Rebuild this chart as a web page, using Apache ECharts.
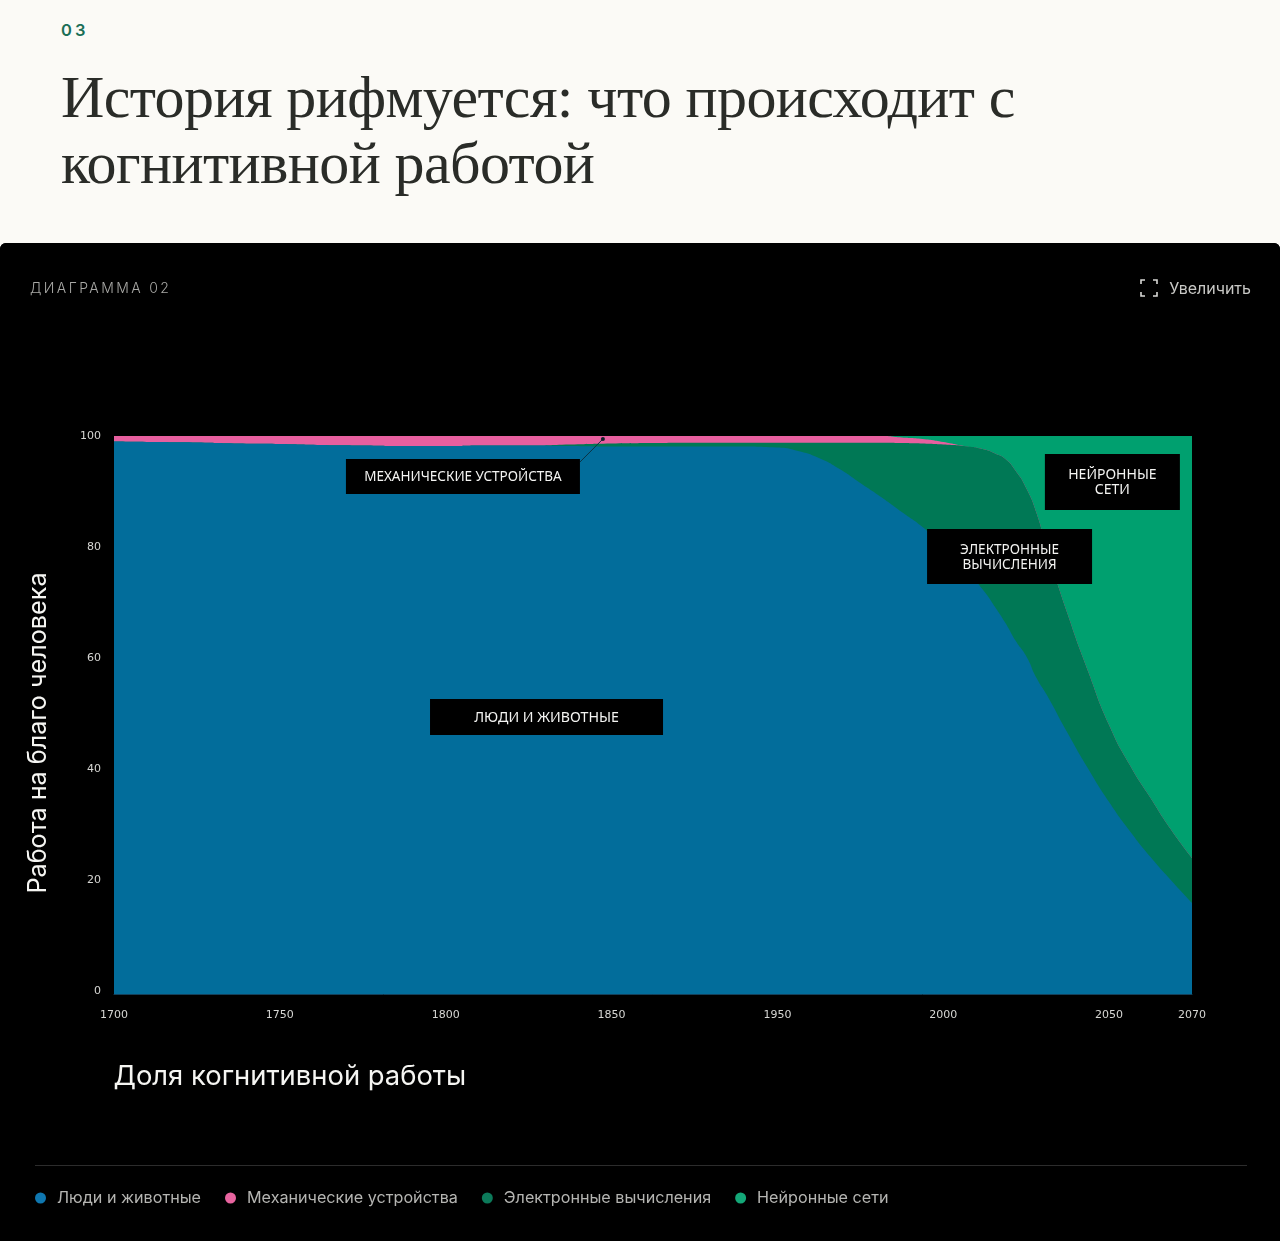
<!DOCTYPE html>
<html lang="ru">
<head>
<meta charset="utf-8">
<title>История рифмуется</title>
<script src="https://cdn.jsdelivr.net/npm/echarts@6/dist/echarts.min.js"></script>
<style>
html,body{margin:0;padding:0;background:#fbfaf6;width:1280px;height:1241px;overflow:hidden}
#eyebrow{position:absolute;left:61px;top:20px;font:600 16.5px/20px Inter,sans-serif;letter-spacing:3px;color:#1b6f57}
#head{position:absolute;left:61px;top:64px;margin:0;font:400 60px/66px "Liberation Serif",serif;color:#2a2c28;letter-spacing:-.6px;white-space:nowrap}
#card{position:absolute;left:0;top:243px;width:1280px;height:998px;background:#000;border-radius:6px 6px 0 0;overflow:hidden}
#chart{position:absolute;left:0;top:0;width:1280px;height:998px}
#tag{position:absolute;left:30px;top:36px;font:300 14px/18px Inter,sans-serif;letter-spacing:2.4px;color:#a8a8a5}
#zoom{position:absolute;right:29px;top:35px;font:400 16px/20px Inter,sans-serif;color:#c9c9c6;display:flex;align-items:center;gap:11px}
</style>
</head>
<body>
<div id="eyebrow">03</div>
<h1 id="head">История рифмуется: что происходит с<br>когнитивной работой</h1>
<div id="card">
  <div id="chart"></div>
  <div id="tag">ДИАГРАММА 02</div>
  <div id="zoom"><svg width="18" height="18" viewBox="0 0 18 18" fill="none" stroke="#d8d8d5" stroke-width="1.6"><path d="M1 5V1h4M13 1h4v4M17 13v4h-4M5 17H1v-4"/></svg><span>Увеличить</span></div>
</div>
<script>
// Axis ticks: evenly spaced steps carrying the reference's labels
const tickSteps = [0, 1, 2, 3, 4, 5, 6, 6.5];
const tickYears = ['1700', '1750', '1800', '1850', '1950', '2000', '2050', '2070'];
const yTicks = [0, 20, 40, 60, 80, 100];

const xSteps = [0, .25, .5, .75, 1, 1.25, 1.5, 1.75, 2, 2.25, 2.5, 2.75, 3, 3.25, 3.5, 3.75,
  4, 4.125, 4.25, 4.375, 4.5, 4.625, 4.75, 4.875,
  5, 5.125, 5.25, 5.3125, 5.375, 5.4375, 5.5, 5.5625, 5.625, 5.75, 5.875, 6, 6.125, 6.25, 6.375, 6.5];

// Upper edge of each band
const humansTop = [99.01, 98.92, 98.83, 98.65, 98.56, 98.38, 98.29, 98.20, 98.20, 98.29, 98.29, 98.20, 98.11, 98.11, 98.11, 98.11,
  97.93, 97.30, 96.04, 94.05, 91.53, 89.01, 86.31, 83.60,
  80.18, 76.40, 71.89, 69.19, 66.31, 63.06, 60.36, 56.40, 53.33, 46.49, 40.00, 34.05, 28.83, 24.14, 19.91, 15.86];
const electronicTop = [99.01, 98.92, 98.83, 98.65, 98.56, 98.38, 98.29, 98.20, 98.20, 98.29, 98.29, 98.47, 98.65, 98.74, 98.79, 98.79,
  98.79, 98.79, 98.79, 98.79, 98.79, 98.79, 98.74, 98.65,
  98.47, 98.20, 97.57, 96.85, 95.86, 93.69, 90.63, 86.13, 79.64, 67.93, 57.48, 47.93, 40.72, 34.77, 29.01, 23.96];
const mechanicalTop = [100, 100, 100, 100, 100, 100, 100, 100, 100, 100, 100, 100, 100, 100, 100, 100,
  100, 100, 100, 100, 100, 100, 99.73, 99.46,
  98.92, 98.20, 97.57, 96.85, 95.86, 93.69, 90.63, 86.13, 79.64, 67.93, 57.48, 47.93, 40.72, 34.77, 29.01, 23.96];
const neuralTop = [100, 100, 100, 100, 100, 100, 100, 100, 100, 100, 100, 100, 100, 100, 100, 100,
  100, 100, 100, 100, 100, 100, 100, 100,
  100, 100, 100, 100, 100, 100, 100, 100, 100, 100, 100, 100, 100, 100, 100, 100];

const names = ['Люди и животные', 'Механические устройства', 'Электронные вычисления', 'Нейронные сети'];
const labelFont = '"Noto Sans", sans-serif';

const pairs = vals => vals.map((v, i) => [xSteps[i], v]);
const area = (name, vals, color) => ({
  name, type: 'line', data: pairs(vals), smooth: 0.6,
  symbol: 'none', showSymbol: false, itemStyle: { color },
  lineStyle: { width: 0 }, areaStyle: { color, opacity: 1, origin: 'start' }, silent: true, animation: false
});
const box = (text, coord, symbolSize, fontSize) => ({
  coord, symbol: 'rect', symbolSize, itemStyle: { color: '#000' },
  label: { show: true, position: 'inside', offset: [0, 1], formatter: text, color: '#f4f4f2', fontFamily: labelFont, fontSize, lineHeight: 15, align: 'center' }
});

// Bands are painted back to front; the annotations sit on the front-most series
const humanSeries = area(names[0], humansTop, '#026d9b');
humanSeries.markLine = {
  silent: true, animation: false, symbol: 'none', label: { show: false },
  lineStyle: { color: '#0c3344', width: 1, type: 'solid' },
  data: [[{ coord: [2.948, 99.46] }, { coord: [2.81, 95.32] }]]
};
humanSeries.markPoint = {
  silent: true, animation: false,
  data: [
    box('МЕХАНИЧЕСКИЕ УСТРОЙСТВА', [2.104, 92.7], [234, 35], 13.5),
    box('ЛЮДИ И ЖИВОТНЫЕ', [2.608, 49.37], [233, 36], 14.2),
    box('ЭЛЕКТРОННЫЕ\nВЫЧИСЛЕНИЯ', [5.40, 78.29], [165, 55], 13.5),
    box('НЕЙРОННЫЕ\nСЕТИ', [6.02, 91.71], [135, 56], 14),
    { coord: [2.948, 99.46], symbol: 'circle', symbolSize: 4, itemStyle: { color: '#10202a' }, label: { show: false } }
  ]
};

const chart = echarts.init(document.getElementById('chart'));
chart.setOption({
  backgroundColor: '#000',
  animation: false,
  grid: { left: 114, top: 193, width: 1078, height: 558 },
  xAxis: {
    type: 'value', min: 0, max: 6.5, z: 5,
    axisLine: { show: true, onZero: false, lineStyle: { color: '#14405a', width: 1 } },
    axisTick: { show: false }, splitLine: { show: false },
    axisLabel: {
      customValues: tickSteps, margin: 16, color: '#d6d6d3', fontFamily: '"DejaVu Sans", sans-serif', fontSize: 11,
      formatter: v => tickYears[tickSteps.indexOf(v)]
    }
  },
  yAxis: {
    type: 'value', min: -0.54, max: 100,
    axisLine: { show: false }, axisTick: { show: false }, splitLine: { show: false },
    axisLabel: {
      customValues: yTicks, margin: 13, color: '#d6d6d3', fontFamily: '"DejaVu Sans", sans-serif', fontSize: 11,
      formatter: v => String(v)
    }
  },
  legend: {
    left: 35, top: 947, itemWidth: 11, itemHeight: 11, itemGap: 24, icon: 'circle', selectedMode: false,
    padding: 0,
    data: [
      { name: names[0], itemStyle: { color: '#0f77b0' } },
      { name: names[1], itemStyle: { color: '#e8649f' } },
      { name: names[2], itemStyle: { color: '#0c7a5a' } },
      { name: names[3], itemStyle: { color: '#14a878' } }
    ],
    textStyle: { color: '#b5b5b2', fontFamily: 'Inter, sans-serif', fontSize: 16.15, padding: [0, 0, 0, 6] }
  },
  graphic: [
    { type: 'line', silent: true, shape: { x1: 35, y1: 922.5, x2: 1247, y2: 922.5 }, style: { stroke: '#2c2c2c', lineWidth: 1 } },
    { type: 'text', silent: true, x: 38, y: 490, rotation: Math.PI / 2,
      style: { text: 'Работа на благо человека', fill: '#f5f5f2', font: '400 25.2px Inter, sans-serif', align: 'center', verticalAlign: 'middle' } },
    { type: 'text', silent: true, x: 113.5, y: 833.5,
      style: { text: 'Доля когнитивной работы', fill: '#f5f5f2', font: '400 27.4px Inter, sans-serif', align: 'left', verticalAlign: 'middle' } }
  ],
  series: [
    area(names[3], neuralTop, '#00a06f'),
    area(names[1], mechanicalTop, '#e75f9f'),
    area(names[2], electronicTop, '#007855'),
    humanSeries
  ]
});
</script>
</body>
</html>
